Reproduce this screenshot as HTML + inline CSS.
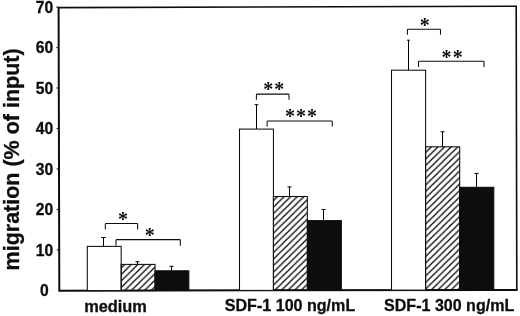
<!DOCTYPE html>
<html><head><meta charset="utf-8"><title>migration chart</title>
<style>
html,body{margin:0;padding:0;background:#fff;}
svg{display:block;}
text{font-family:"Liberation Sans",sans-serif;font-weight:bold;fill:#0d0d0d;stroke:#0d0d0d;stroke-width:0.3px;}
.ast{font-family:"Liberation Serif",serif;font-weight:bold;stroke:none;}
</style></head><body>
<svg width="520" height="316" viewBox="0 0 520 316">
<defs>
<pattern id="h0" patternUnits="userSpaceOnUse" width="6.6" height="6.5" patternTransform="translate(125.7,270)"><path d="M-1,7.485 L7.6,-0.985 M-7.6,7.485 L1,-0.985 M5.6,7.485 L14.2,-0.985" stroke="#000" stroke-width="1.25" fill="none"/></pattern>
<pattern id="h1" patternUnits="userSpaceOnUse" width="6.6" height="6.5" patternTransform="translate(276.6,230)"><path d="M-1,7.485 L7.6,-0.985 M-7.6,7.485 L1,-0.985 M5.6,7.485 L14.2,-0.985" stroke="#000" stroke-width="1.25" fill="none"/></pattern>
<pattern id="h2" patternUnits="userSpaceOnUse" width="6.6" height="6.5" patternTransform="translate(423.6,200)"><path d="M-1,7.485 L7.6,-0.985 M-7.6,7.485 L1,-0.985 M5.6,7.485 L14.2,-0.985" stroke="#000" stroke-width="1.25" fill="none"/></pattern>
</defs>
<rect width="520" height="316" fill="#fff"/>
<path d="M58.6,7.6 L516.2,6.2 L516.8,289.9" fill="none" stroke="#0d0d0d" stroke-width="1.6" stroke-linejoin="miter"/>
<path d="M58.6,7.0 L59.3,290.7 L517.6,289.9" fill="none" stroke="#0d0d0d" stroke-width="2" stroke-linejoin="miter"/>
<text transform="translate(44.4,296.0) scale(1.0,1)" font-size="15.7" text-anchor="middle">0</text>
<path d="M56.9,249.9 H59.2" stroke="#0d0d0d" stroke-width="1.1"/>
<text transform="translate(44.4,255.5) scale(1.0,1)" font-size="15.7" text-anchor="middle">10</text>
<path d="M56.8,209.5 H59.1" stroke="#0d0d0d" stroke-width="1.1"/>
<text transform="translate(44.4,215.1) scale(1.0,1)" font-size="15.7" text-anchor="middle">20</text>
<path d="M56.7,169.0 H59.0" stroke="#0d0d0d" stroke-width="1.1"/>
<text transform="translate(44.4,174.6) scale(1.0,1)" font-size="15.7" text-anchor="middle">30</text>
<path d="M56.6,128.5 H58.9" stroke="#0d0d0d" stroke-width="1.1"/>
<text transform="translate(44.4,134.1) scale(1.0,1)" font-size="15.7" text-anchor="middle">40</text>
<path d="M56.5,88.0 H58.8" stroke="#0d0d0d" stroke-width="1.1"/>
<text transform="translate(44.4,93.6) scale(1.0,1)" font-size="15.7" text-anchor="middle">50</text>
<path d="M56.4,47.6 H58.7" stroke="#0d0d0d" stroke-width="1.1"/>
<text transform="translate(44.4,53.2) scale(1.0,1)" font-size="15.7" text-anchor="middle">60</text>
<path d="M56.3,7.1 H58.6" stroke="#0d0d0d" stroke-width="1.1"/>
<text transform="translate(44.4,12.7) scale(1.0,1)" font-size="15.7" text-anchor="middle">70</text>
<path d="M103.5,246.4 V237.5 M101.2,237.5 H105.8" stroke="#000" stroke-width="1" fill="none"/>
<rect x="87.3" y="246.4" width="33.85" height="44.2" fill="#fff" stroke="#0d0d0d" stroke-width="1.05"/>
<path d="M137.5,264.4 V261.7 M135.5,261.7 H139.5" stroke="#000" stroke-width="1" fill="none"/>
<rect x="121.2" y="264.4" width="33.85" height="26.2" fill="url(#h0)" stroke="#0d0d0d" stroke-width="1.05"/>
<path d="M171.5,270.8 V266.3 M169.5,266.3 H173.5" stroke="#000" stroke-width="1" fill="none"/>
<rect x="155.0" y="270.8" width="33.85" height="19.7" fill="#0d0d0d" stroke="#0d0d0d" stroke-width="1.05"/>
<path d="M256.5,129.1 V104.7 M254.6,104.7 H258.4" stroke="#000" stroke-width="1" fill="none"/>
<rect x="239.5" y="129.1" width="33.95" height="161.3" fill="#fff" stroke="#0d0d0d" stroke-width="1.05"/>
<path d="M289.5,196.5 V186.9 M287.5,186.9 H291.5" stroke="#000" stroke-width="1" fill="none"/>
<rect x="273.4" y="196.5" width="33.95" height="93.8" fill="url(#h1)" stroke="#0d0d0d" stroke-width="1.05"/>
<path d="M323.5,220.6 V209.5 M321.5,209.5 H325.5" stroke="#000" stroke-width="1" fill="none"/>
<rect x="307.4" y="220.6" width="33.95" height="69.6" fill="#0d0d0d" stroke="#0d0d0d" stroke-width="1.05"/>
<path d="M408.5,70.2 V40.2 M407.1,40.2 H409.9" stroke="#000" stroke-width="1" fill="none"/>
<rect x="391.5" y="70.2" width="34.1" height="219.9" fill="#fff" stroke="#0d0d0d" stroke-width="1.05"/>
<path d="M442.5,146.8 V131.8 M440.5,131.8 H444.5" stroke="#000" stroke-width="1" fill="none"/>
<rect x="425.6" y="146.8" width="34.1" height="143.2" fill="url(#h2)" stroke="#0d0d0d" stroke-width="1.05"/>
<path d="M476.5,187.3 V173.4 M474.4,173.4 H478.6" stroke="#000" stroke-width="1" fill="none"/>
<rect x="459.7" y="187.3" width="34.1" height="102.7" fill="#0d0d0d" stroke="#0d0d0d" stroke-width="1.05"/>
<path d="M105.3,229.6 V224.20000000000002 Q105.3,223.4 106.1,223.4 H136.79999999999998 Q137.6,223.4 137.6,224.20000000000002 V229.6" fill="none" stroke="#0d0d0d" stroke-width="1.05"/>
<text class="ast" x="123.0" y="226.0" font-size="20" text-anchor="middle">*</text>
<path d="M116,245.8 V240.4 Q116,239.6 116.8,239.6 H179.5 Q180.3,239.6 180.3,240.4 V245.8" fill="none" stroke="#0d0d0d" stroke-width="1.05"/>
<text class="ast" x="149.7" y="242.4" font-size="20" text-anchor="middle">*</text>
<path d="M256.4,99.7 V94.89999999999999 Q256.4,94.1 257.2,94.1 H288.2 Q289,94.1 289,94.89999999999999 V99.7" fill="none" stroke="#0d0d0d" stroke-width="1.05"/>
<text class="ast" x="268.2" y="96.4" font-size="20" text-anchor="middle">*</text>
<text class="ast" x="279.2" y="96.4" font-size="20" text-anchor="middle">*</text>
<path d="M267.1,126.4 V121.8 Q267.1,121.0 267.90000000000003,121.0 H331.5 Q332.3,121.0 332.3,121.8 V126.4" fill="none" stroke="#0d0d0d" stroke-width="1.05"/>
<text class="ast" x="290.1" y="123.4" font-size="20" text-anchor="middle">*</text>
<text class="ast" x="301.1" y="123.4" font-size="20" text-anchor="middle">*</text>
<text class="ast" x="312.1" y="123.4" font-size="20" text-anchor="middle">*</text>
<path d="M407.4,34.8 V30.1 Q407.4,29.3 408.2,29.3 H439.7 Q440.5,29.3 440.5,30.1 V34.8" fill="none" stroke="#0d0d0d" stroke-width="1.05"/>
<text class="ast" x="424.8" y="31.8" font-size="20" text-anchor="middle">*</text>
<path d="M418.5,67 V62.0 Q418.5,61.2 419.3,61.2 H483.2 Q484,61.2 484,62.0 V67" fill="none" stroke="#0d0d0d" stroke-width="1.05"/>
<text class="ast" x="446.5" y="64.0" font-size="20" text-anchor="middle">*</text>
<text class="ast" x="457.8" y="64.0" font-size="20" text-anchor="middle">*</text>
<text x="84.2" y="311.5" font-size="16.6" textLength="62.7" lengthAdjust="spacingAndGlyphs">medium</text>
<text x="224.8" y="311.1" font-size="16.6" textLength="130.4" lengthAdjust="spacingAndGlyphs">SDF-1 100 ng/mL</text>
<text x="384.1" y="310.7" font-size="16.6" textLength="130.1" lengthAdjust="spacingAndGlyphs">SDF-1 300 ng/mL</text>
<text transform="translate(19.0,270.4) rotate(-90)" font-size="21.3" textLength="222" lengthAdjust="spacingAndGlyphs">migration (% of input)</text>
</svg></body></html>
